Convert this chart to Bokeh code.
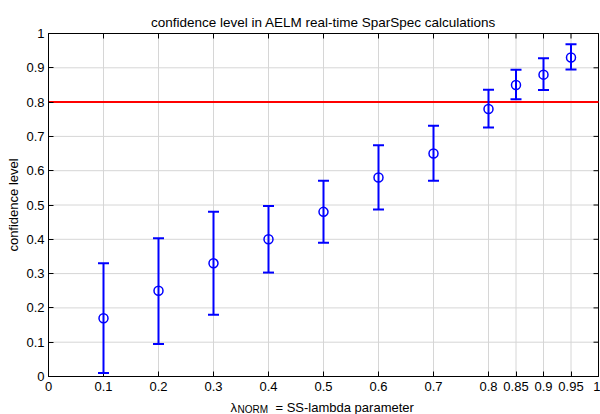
from bokeh.plotting import figure
from bokeh.models import (ColumnDataSource, Whisker, FixedTicker, TeeHead,
                          Label, Range1d)
from bokeh.embed import file_html
from bokeh.resources import INLINE

# ---- data ----
lam = [0.1, 0.2, 0.3, 0.4, 0.5, 0.6, 0.7, 0.8, 0.85, 0.9, 0.95]
conf = [0.17, 0.25, 0.33, 0.40, 0.48, 0.58, 0.65, 0.78, 0.85, 0.88, 0.93]
conf_lo = [0.01, 0.095, 0.18, 0.303, 0.39, 0.487, 0.571, 0.726, 0.808, 0.835, 0.895]
conf_hi = [0.33, 0.403, 0.48, 0.497, 0.571, 0.674, 0.731, 0.836, 0.894, 0.928, 0.969]
threshold = 0.8
x_ticks = [0, 0.1, 0.2, 0.3, 0.4, 0.5, 0.6, 0.7, 0.8, 0.85, 0.9, 0.95, 1]
x_tick_labels = ["0", "0.1", "0.2", "0.3", "0.4", "0.5", "0.6", "0.7", "0.8", "0.85", "0.9", "0.95", "1"]
y_ticks = [0, 0.1, 0.2, 0.3, 0.4, 0.5, 0.6, 0.7, 0.8, 0.9, 1]
y_tick_labels = ["0", "0.1", "0.2", "0.3", "0.4", "0.5", "0.6", "0.7", "0.8", "0.9", "1"]
title = "confidence level in AELM real-time SparSpec calculations"
y_label = "confidence level"
x_label_symbol = "λ"
x_label_sub = "NORM"
x_label_rest = "= SS-lambda parameter"

FONT = "Liberation Sans"
BLUE = "#0000ff"
GRID = "#d6d6d6"

x0, x1 = x_ticks[0], x_ticks[-1]
y0, y1 = y_ticks[0], y_ticks[-1]
n_x, n_y = len(x_ticks), len(y_ticks)

src = ColumnDataSource(dict(x=lam, y=conf, lo=conf_lo, hi=conf_hi))

# The plot frame fills the whole canvas; the axes sit at x=0 / y=0 inside it,
# so that the title and the x-axis label (with its subscript) can be drawn as text.
W, H = 600, 414
BOX_L, BOX_R, BOX_T, BOX_B = 48, 598, 33, 376      # box edges in canvas pixels
PX_X = (BOX_R - BOX_L) / (x1 - x0)
PX_Y = (BOX_B - BOX_T) / (y1 - y0)
p = figure(width=W, height=H, output_backend="svg", toolbar_location=None, title=None,
           x_range=Range1d(x0 - BOX_L / PX_X, x1 + (W - BOX_R) / PX_X),
           y_range=Range1d(y0 - (H - BOX_B) / PX_Y, y1 + BOX_T / PX_Y),
           min_border_left=0, min_border_right=0, min_border_top=0, min_border_bottom=0)

p.background_fill_color = "white"
p.border_fill_color = "white"
p.outline_line_color = None

for ax in (p.xaxis[0], p.yaxis[0]):
    ax.axis_line_color = "black"
    ax.axis_line_width = 1
    ax.major_tick_in = 5
    ax.major_tick_out = 0
    ax.minor_tick_in = 0
    ax.minor_tick_out = 0
    ax.major_tick_line_color = "black"
    ax.major_label_text_font = FONT
    ax.major_label_text_font_size = "13px"
    ax.major_label_text_color = "black"

p.xaxis.ticker = FixedTicker(ticks=x_ticks)
p.xaxis.major_label_overrides = dict(zip(x_ticks, x_tick_labels))
p.xaxis.fixed_location = y0
p.xaxis.bounds = (x0, x1)
p.xaxis.major_label_standoff = 5
p.yaxis.ticker = FixedTicker(ticks=y_ticks)
p.yaxis.major_label_overrides = dict(zip(y_ticks, y_tick_labels))
p.yaxis.fixed_location = x0
p.yaxis.bounds = (y0, y1)
p.yaxis.major_label_standoff = 4
p.yaxis.axis_label = y_label
p.yaxis.axis_label_text_font = FONT
p.yaxis.axis_label_text_font_size = "13px"
p.yaxis.axis_label_text_font_style = "normal"
p.yaxis.axis_label_text_color = "black"
p.yaxis.axis_label_standoff = 2

# grid lines, only over the box
p.grid.visible = False
p.segment(x0=x_ticks, x1=x_ticks, y0=[y0] * n_x, y1=[y1] * n_x,
          line_color=GRID, line_width=1, level="underlay")
p.segment(x0=[x0] * n_y, x1=[x1] * n_y, y0=y_ticks, y1=y_ticks,
          line_color=GRID, line_width=1, level="underlay")

# box edges (top and right) with inward ticks
p.quad(left=x0, right=x1, bottom=y0, top=y1, fill_color=None, line_color="black", line_width=1)
tick_y = 5 / PX_Y
tick_x = 5 / PX_X
p.segment(x0=x_ticks, x1=x_ticks, y0=[y1] * n_x, y1=[y1 - tick_y] * n_x,
          line_color="black", line_width=1)
p.segment(x0=[x1] * n_y, x1=[x1 - tick_x] * n_y, y0=y_ticks, y1=y_ticks,
          line_color="black", line_width=1)

# threshold line
p.segment(x0=[x0], x1=[x1], y0=[threshold], y1=[threshold], line_color="#ff0000", line_width=2)

p.add_layout(Whisker(source=src, base="x", lower="lo", upper="hi",
                     line_color=BLUE, line_width=2, level="annotation",
                     upper_head=TeeHead(size=11, line_color=BLUE, line_width=2),
                     lower_head=TeeHead(size=11, line_color=BLUE, line_width=2)))

p.scatter("x", "y", source=src, marker="circle", size=9, fill_color=None,
          line_color=BLUE, line_width=1.5)

# title
p.add_layout(Label(x=(x0 + x1) / 2, y=y1 + 11 / PX_Y, text=title, text_align="center",
                   text_font=FONT, text_font_size="13.5px", text_color="black",
                   text_baseline="alphabetic"))

# x-axis label with subscript
p.add_layout(Label(x=x0 + 182 / PX_X, y=y0 - 30.5 / PX_Y, text=x_label_symbol,
                   text_font=FONT, text_font_size="13px", text_color="black",
                   text_baseline="alphabetic"))
p.add_layout(Label(x=x0 + 189 / PX_X, y=y0 - 33 / PX_Y, text=x_label_sub,
                   text_font=FONT, text_font_size="10px", text_color="black",
                   text_baseline="alphabetic"))
p.add_layout(Label(x=x0 + 227 / PX_X, y=y0 - 30.5 / PX_Y, text=x_label_rest,
                   text_font=FONT, text_font_size="13px", text_color="black",
                   text_baseline="alphabetic"))

open("out.html", "w").write(file_html(p, INLINE))
